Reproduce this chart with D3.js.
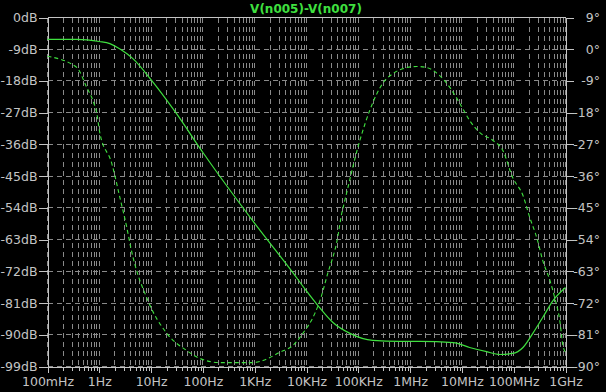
<!DOCTYPE html>
<html>
<head>
<meta charset="utf-8">
<script src="https://cdn.jsdelivr.net/npm/d3@7/dist/d3.min.js"></script>
<style>
  body { margin: 0; background: #000; }
  svg { display: block; background: #000; }
  .lbl { font-family: "DejaVu Sans", sans-serif; font-size: 12.5px; fill: #c4c4c4; }
</style>
</head>
<body>
<svg id="chart" width="606" height="392"></svg>
<script>
// tick labels
var dbTicks = [0, -9, -18, -27, -36, -45, -54, -63, -72, -81, -90, -99];
var phaseTicks = [9, 0, -9, -18, -27, -36, -45, -54, -63, -72, -81, -90];
var freqTicks = [0.1, 1, 10, 100, 1e3, 1e4, 1e5, 1e6, 1e7, 1e8, 1e9];
var freqLabels = ["100mHz", "1Hz", "10Hz", "100Hz", "1KHz", "10KHz", "100KHz", "1MHz", "10MHz", "100MHz", "1GHz"];

// magnitude V(n005)-V(n007), dB (solid)
var magFreq = [0.1, 0.37, 1.0, 1.6, 2.6, 4.4, 10.3, 30, 100, 1000, 5400, 9550, 16600, 32400, 69000,
  190000, 630000, 1.55e6, 6.8e6, 1.41e7, 3.0e7, 5.4e7, 9.5e7, 1.51e8, 2.34e8, 3.63e8, 5.75e8, 1e9];
var magDb = [-6.2, -6.2, -6.8, -7.4, -9.1, -11.6, -17.9, -27, -38.3, -58.4, -72.3, -77.2, -81.7, -86.5, -89.6,
  -91.6, -91.9, -91.9, -92.2, -93.6, -94.8, -95.6, -95.3, -93.6, -89.6, -85.1, -80.3, -76.6];

// phase, degrees (dashed)
var phaseFreq = [0.1, 0.368, 0.574, 0.75, 0.895, 1.02, 1.74, 2.5, 3.4, 4.06, 8.67, 20.1, 48.9, 87, 214,
  933, 1445, 3020, 5500, 8510, 14450, 18200, 25700, 38900, 47900, 55000, 107000, 166000, 295000, 468000,
  871000, 1.35e6, 2.09e6, 3.72e6, 5.89e6, 9.12e6, 1.41e7, 2.19e7, 3.98e7, 6.17e7, 9.55e7, 1.51e8, 2.04e8,
  2.82e8, 3.63e8, 5.01e8, 6.17e8, 7.76e8, 8.91e8, 1e9];
var phaseDeg = [-2.0, -5.2, -10.9, -14.5, -18.2, -23.6, -32.4, -42.1, -50.6, -56.3, -71.3, -80.6, -85.5, -87.7, -88.9,
  -88.9, -88.3, -86, -84, -80.6, -75, -71.3, -63.6, -54.3, -46.6, -42.9, -25.9, -17.4, -9.7, -6.9,
  -5.2, -4.9, -5.2, -7.5, -10.9, -15.4, -20.2, -23.6, -25.9, -28.7, -36.4, -41.5, -47.7,
  -53.7, -59.9, -65.6, -70.4, -77, -84, -86];

var plotL = 47.5, plotR = 565.5, plotT = 17.5, plotB = 366.5;
var green = "#3fe03f", gray = "#c4c4c4", gridCol = "#8a8a8a";

var svg = d3.select("#chart");

var x = d3.scaleLog().domain([0.1, 1e9]).range([plotL, plotR]);
var yDb = d3.scaleLinear().domain([-99, 0]).range([plotB, plotT]);
var yPh = d3.scaleLinear().domain([-90, 9]).range([plotB, plotT]);

// minor decade ticks
var minorTicks = [];
freqTicks.forEach(function(f, i) {
  if (i < freqTicks.length - 1) {
    for (var k = 2; k <= 9; k++) minorTicks.push(f * k);
  }
});
var allTicks = freqTicks.concat(minorTicks);

function snap(v) { return Math.round(v - 0.5) + 0.5; }

// grid
var grid = svg.append("g")
  .attr("stroke", gridCol)
  .attr("stroke-width", 1)
  .attr("stroke-dasharray", "5,4")
  .attr("shape-rendering", "crispEdges");

grid.selectAll(".vg")
  .data(allTicks)
  .enter().append("line")
  .attr("x1", function(d) { return snap(x(d)); })
  .attr("x2", function(d) { return snap(x(d)); })
  .attr("y1", plotT)
  .attr("y2", plotB);

grid.selectAll(".hg")
  .data(dbTicks)
  .enter().append("line")
  .attr("x1", plotL)
  .attr("x2", plotR)
  .attr("y1", function(d) { return snap(yDb(d)); })
  .attr("y2", function(d) { return snap(yDb(d)); });

// axes
var leftAxis = svg.append("g")
  .attr("transform", "translate(" + plotL + ",0)")
  .call(d3.axisLeft(yDb).tickValues(dbTicks).tickSize(9).tickSizeOuter(0).tickPadding(1)
    .tickFormat(function(d) { return d + "dB"; }));

var rightAxis = svg.append("g")
  .attr("transform", "translate(" + plotR + ",0)")
  .call(d3.axisRight(yPh).tickValues(phaseTicks).tickSize(8).tickSizeOuter(0).tickPadding(2)
    .tickFormat(function(d) { return d + "°"; }));

var bottomAxis = svg.append("g")
  .attr("transform", "translate(0," + plotB + ")")
  .call(d3.axisBottom(x).tickValues(allTicks).tickSize(5).tickSizeOuter(0).tickPadding(6)
    .tickFormat(function(d) {
      var i = freqTicks.indexOf(d);
      return i >= 0 ? freqLabels[i] : "";
    }));

[leftAxis, rightAxis, bottomAxis].forEach(function(a) {
  a.attr("font-family", null).attr("font-size", null);
  a.selectAll("path, line").attr("stroke", gray).attr("shape-rendering", "crispEdges");
  a.selectAll("text").attr("class", "lbl").attr("fill", gray);
});
rightAxis.selectAll("text").attr("text-anchor", "end").attr("x", 34.5);
bottomAxis.selectAll(".tick line").attr("y2", function(d) { return freqTicks.indexOf(d) >= 0 ? 6 : 4; });

// top border
svg.append("line")
  .attr("x1", plotL).attr("x2", plotR)
  .attr("y1", plotT).attr("y2", plotT)
  .attr("stroke", gray)
  .attr("shape-rendering", "crispEdges");

// title
svg.append("text")
  .attr("x", 306)
  .attr("y", 13)
  .attr("text-anchor", "middle")
  .attr("fill", green)
  .style("font-family", "'DejaVu Sans', sans-serif")
  .style("font-size", "12px")
  .style("font-weight", "bold")
  .text("V(n005)-V(n007)");

// curves
var magLine = d3.line()
  .x(function(d, i) { return x(magFreq[i]); })
  .y(function(d) { return yDb(d); })
  .curve(d3.curveMonotoneX);

var phaseLine = d3.line()
  .x(function(d, i) { return x(phaseFreq[i]); })
  .y(function(d) { return yPh(d); })
  .curve(d3.curveMonotoneX);

svg.append("path")
  .datum(phaseDeg)
  .attr("fill", "none")
  .attr("stroke", green)
  .attr("stroke-width", 1.1)
  .attr("stroke-dasharray", "4,3")
  .attr("d", phaseLine);

svg.append("path")
  .datum(magDb)
  .attr("fill", "none")
  .attr("stroke", green)
  .attr("stroke-width", 1.2)
  .attr("d", magLine);
</script>
</body>
</html>
